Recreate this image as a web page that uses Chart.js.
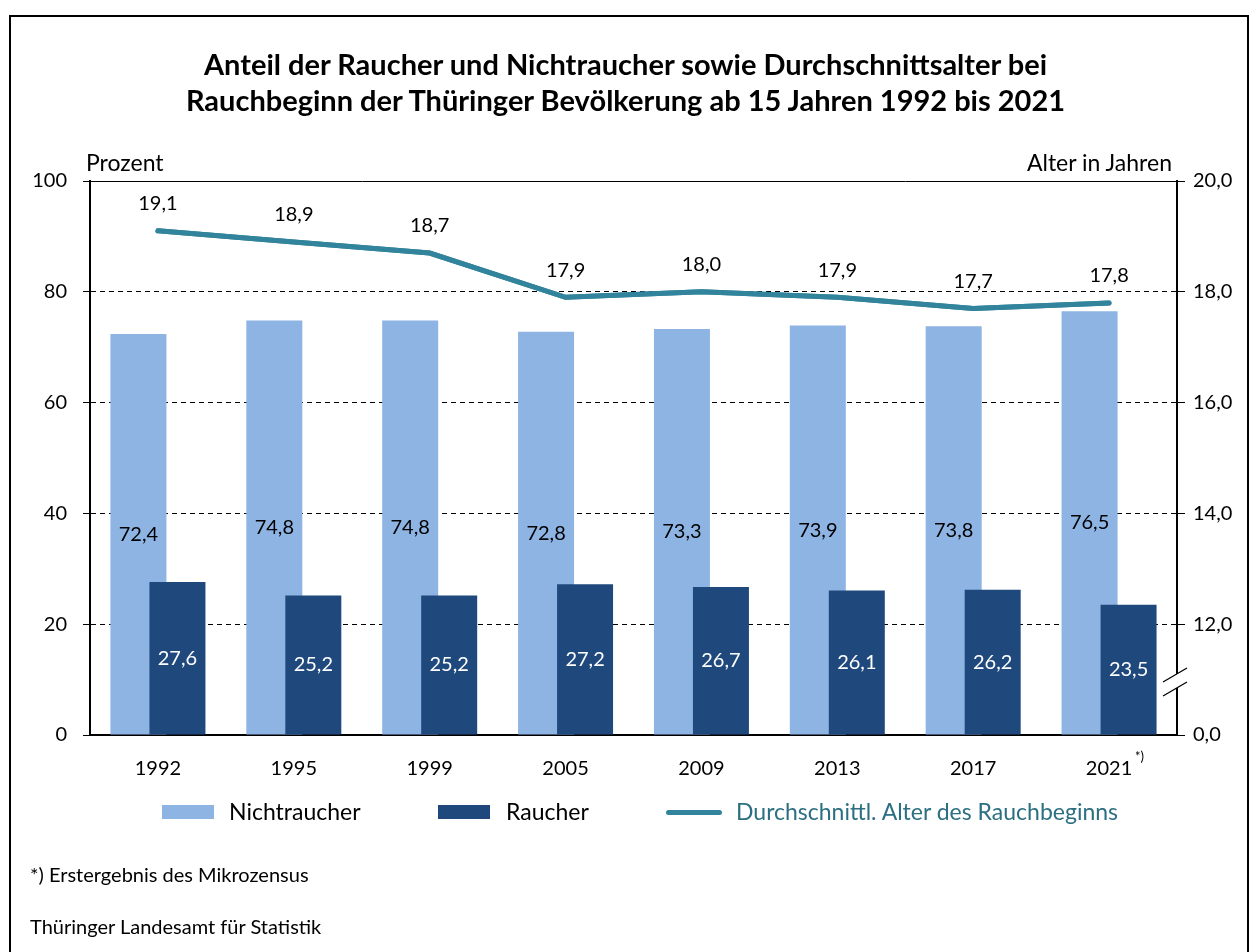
<!DOCTYPE html>
<html>
<head>
<meta charset="utf-8">
<script src="https://cdn.jsdelivr.net/npm/chart.js@4"></script>
<style>
  body { margin: 0; background: #fff; font-family: Lato, sans-serif; color: #000; }
  #wrap { position: relative; width: 1251px; height: 952px; overflow: hidden; }
  #frame { position: absolute; left: 9px; top: 15px; width: 1240px; height: 1000px; border: 2px solid #000; box-sizing: border-box; }
  canvas { position: absolute; left: 0; top: 0; }
  .txt { position: absolute; white-space: nowrap; line-height: 1; }
  #title { left: 0; width: 1251px; top: 46px; text-align: center; font-weight: bold; font-size: 29px; line-height: 36px; }
  .box { position: absolute; width: 52px; height: 14px; }
</style>
</head>
<body>
<div id="wrap">
  <div id="frame"></div>
  <canvas id="myChart" width="1251" height="952"></canvas>
  <div id="title" class="txt">Anteil der Raucher und Nichtraucher sowie Durchschnittsalter bei<br>Rauchbeginn der Thüringer Bevölkerung ab 15 Jahren 1992 bis 2021</div>
  <div class="txt" style="left:86px; top:151px; font-size:23px;">Prozent</div>
  <div class="txt" style="right:79px; top:151px; font-size:23px;">Alter in Jahren</div>

  <div class="box" style="left:162px; top:805px; background:#8eb4e3;"></div>
  <div class="txt" style="left:229px; top:800px; font-size:23px;">Nichtraucher</div>
  <div class="box" style="left:438px; top:805px; background:#1f497d;"></div>
  <div class="txt" style="left:506px; top:800px; font-size:23px;">Raucher</div>
  <div style="position:absolute; left:666px; top:810px; width:56px; height:5px; border-radius:3px; background:#31849b;"></div>
  <div class="txt" style="left:736px; top:800px; font-size:23px; color:#2c6f82;">Durchschnittl. Alter des Rauchbeginns</div>

  <div class="txt" style="left:30px; top:864px; font-size:20px;">*) Erstergebnis des Mikrozensus</div>
  <div class="txt" style="left:30px; top:916px; font-size:20px;">Thüringer Landesamt für Statistik</div>
</div>
<script>
var years = ['1992', '1995', '1999', '2005', '2009', '2013', '2017', '2021'];
var nichtraucher = [72.4, 74.8, 74.8, 72.8, 73.3, 73.9, 73.8, 76.5];
var raucher = [27.6, 25.2, 25.2, 27.2, 26.7, 26.1, 26.2, 23.5];
var alter = [19.1, 18.9, 18.7, 17.9, 18.0, 17.9, 17.7, 17.8];
var leftTicks = [0, 20, 40, 60, 80, 100];
var rightTicks = [10, 12, 14, 16, 18, 20];

function fmt(v) {
    return v.toFixed(1).replace('.', ',');
}

// Raucher bars must sit on top of the Nichtraucher bars
var drawingLate = false;
var orderPlugin = {
    id: 'orderPlugin',
    beforeDatasetDraw: function (chart, args) {
        if (args.index === 1 && !drawingLate) return false;
    },
    afterDatasetsDraw: function (chart) {
        drawingLate = true;
        var ctx = chart.ctx;
        var a = chart.chartArea;
        ctx.save();
        ctx.beginPath();
        ctx.rect(a.left, a.top, a.right - a.left, a.bottom - a.top);
        ctx.clip();
        chart.getDatasetMeta(1).controller.draw();
        chart.getDatasetMeta(2).controller.draw();
        ctx.restore();
        drawingLate = false;

        // value labels
        ctx.save();
        ctx.font = '20px Lato';
        ctx.textAlign = 'center';
        ctx.textBaseline = 'middle';
        chart.data.datasets.forEach(function (ds, i) {
            var meta = chart.getDatasetMeta(i);
            meta.data.forEach(function (el, j) {
                var txt = fmt(ds.data[j]);
                if (ds.type === 'line') {
                    ctx.fillStyle = '#000';
                    ctx.fillText(txt, el.x, el.y - 27);
                } else {
                    ctx.fillStyle = i === 1 ? '#fff' : '#000';
                    ctx.fillText(txt, el.x, (el.y + el.base) / 2);
                }
            });
        });
        ctx.restore();
    },
    afterDraw: function (chart) {
        var ctx = chart.ctx;
        var a = chart.chartArea;
        var x = a.right;
        var y = 682;
        ctx.save();
        // axis break on the right
        ctx.fillStyle = '#fff';
        ctx.beginPath();
        ctx.moveTo(x - 14, y);
        ctx.lineTo(x + 10, y - 14);
        ctx.lineTo(x + 10, y);
        ctx.lineTo(x - 14, y + 14);
        ctx.closePath();
        ctx.fill();
        ctx.strokeStyle = '#000';
        ctx.lineWidth = 1.3;
        ctx.beginPath();
        ctx.moveTo(x - 14, y);
        ctx.lineTo(x + 10, y - 14);
        ctx.moveTo(x - 14, y + 14);
        ctx.lineTo(x + 10, y);
        ctx.stroke();
        // footnote mark at 2021
        var xs = chart.scales.x;
        ctx.fillStyle = '#000';
        ctx.font = '13px Lato';
        ctx.textAlign = 'left';
        ctx.textBaseline = 'middle';
        ctx.fillText('*)', xs.getPixelForValue(7) + 26, 757);
        ctx.restore();
    }
};

var ctx = document.getElementById('myChart').getContext('2d');
var myChart = new Chart(ctx, {
    type: 'bar',
    data: {
        labels: years,
        datasets: [{
            label: 'Nichtraucher',
            data: nichtraucher,
            backgroundColor: '#8eb4e3',
            categoryPercentage: 0.574,
            barPercentage: 1.436,
            yAxisID: 'y'
        }, {
            label: 'Raucher',
            data: raucher,
            backgroundColor: '#1f497d',
            categoryPercentage: 0.574,
            barPercentage: 1.436,
            yAxisID: 'y'
        }, {
            type: 'line',
            label: 'Durchschnittl. Alter des Rauchbeginns',
            data: alter,
            borderColor: '#31849b',
            borderWidth: 5,
            pointRadius: 0,
            tension: 0,
            borderCapStyle: 'round',
            yAxisID: 'y2'
        }]
    },
    options: {
        responsive: false,
        animation: false,
        layout: {
            padding: { left: 0, right: 0, top: 181, bottom: 167 }
        },
        plugins: {
            legend: { display: false },
            tooltip: { enabled: false }
        },
        scales: {
            x: {
                grid: { display: false, drawTicks: false },
                border: { display: true, color: '#000', width: 2 },
                ticks: { color: '#000', font: { family: 'Lato', size: 20 }, padding: 22, maxRotation: 0 },
                afterFit: function (s) { s.height = 50; }
            },
            y: {
                position: 'left',
                min: 0,
                max: 100,
                afterBuildTicks: function (s) { s.ticks = leftTicks.map(function (v) { return { value: v }; }); },
                grid: {
                    color: '#000',
                    lineWidth: 1,
                    tickLength: 7,
                    tickBorderDash: []
                },
                border: {
                    display: true,
                    color: '#000',
                    width: 2,
                    dash: function (c) {
                        return (c.type === 'tick' && c.tick && c.tick.value !== 0 && c.tick.value !== 100) ? [5, 4] : [];
                    }
                },
                ticks: { color: '#000', font: { family: 'Lato', size: 20 }, padding: 16 },
                afterFit: function (s) { s.width = 90; }
            },
            y2: {
                position: 'right',
                min: 10,
                max: 20,
                afterBuildTicks: function (s) { s.ticks = rightTicks.map(function (v) { return { value: v }; }); },
                grid: { drawOnChartArea: false, color: '#000', tickLength: 8 },
                border: { display: true, color: '#000', width: 2 },
                ticks: {
                    color: '#000',
                    font: { family: 'Lato', size: 20 },
                    padding: 8,
                    callback: function (v) { return v === 10 ? '0,0' : fmt(v); }
                },
                afterFit: function (s) { s.width = 74; }
            }
        }
    },
    plugins: [orderPlugin]
});
</script>
</body>
</html>
